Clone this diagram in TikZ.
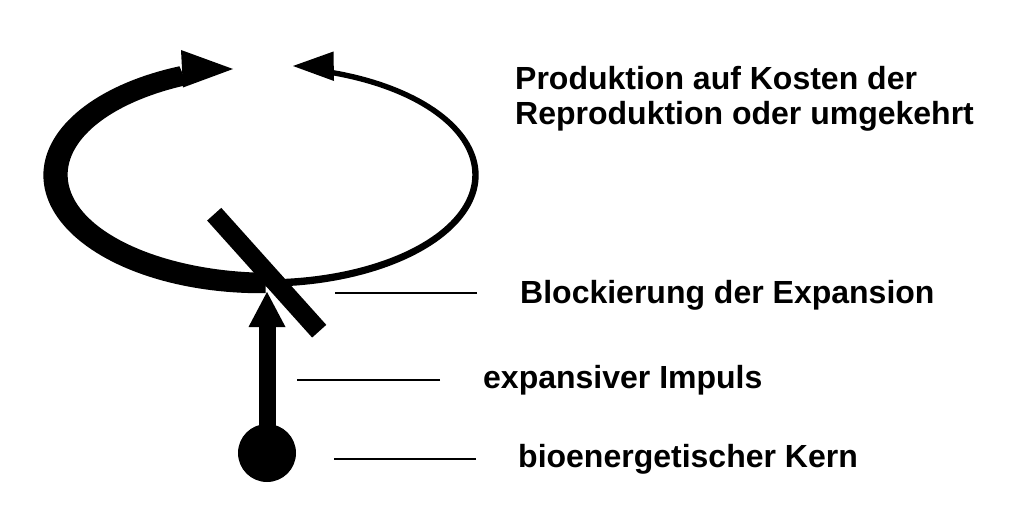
\documentclass[tikz,border=0pt]{standalone}
\usepackage{fontspec}
\setmainfont{Liberation Sans}
\begin{document}
\begin{tikzpicture}[x=1pt,y=-1pt,
  declare function={wl(\t)=10+2.2*sin((\t-85)/165*180); wr(\t)=2.7+0.5*(1+sin(\t));},
  lbl/.style={anchor=base west,inner sep=0pt,align=left,font=\fontsize{32}{35}\selectfont\bfseries},
  leader/.style={line width=2.4pt}]
\useasboundingbox (0,0) rectangle (1025,527);
\pgfmathsetmacro{\cx}{265.5}
\pgfmathsetmacro{\cy}{175}
\pgfmathsetmacro{\rx}{210}
\pgfmathsetmacro{\ry}{108}
\fill plot[domain=90:247,samples=80]({\cx+(\rx+wl(\x))*cos(\x)},{\cy+(\ry+wl(\x))*sin(\x)})--plot[domain=247:90,samples=80]({\cx+(\rx-wl(\x))*cos(\x)},{\cy+(\ry-wl(\x))*sin(\x)})--cycle;
\fill(233,69)--(181,50)--(183,87.5)--cycle;
\fill plot[domain=90:-72,samples=80]({\cx+(\rx+wr(\x))*cos(\x)},{\cy+(\ry+wr(\x))*sin(\x)})--plot[domain=-72:90,samples=80]({\cx+(\rx-wr(\x))*cos(\x)},{\cy+(\ry-wr(\x))*sin(\x)})--cycle;
\fill(293,66)--(333.5,51.5)--(334,81)--cycle;
\draw[line width=19pt](214.2,214.2)--(319.2,331.2);
\node[circle,fill,inner sep=0pt,minimum size=58pt](kern)at(267,453){};
\coordinate(spitze)at(267,326);
\draw[line width=17pt](kern.center)--(spitze);
\fill(267,292)--(248.5,327)--(285.5,327)--cycle;
\node[lbl](prod)at(515,124){Produktion auf Kosten der\\Reproduktion oder umgekehrt};
\node[lbl](block)at(520,303){Blockierung der Expansion};
\node[lbl](impuls)at(483,388){expansiver Impuls};
\node[lbl](kernlbl)at(518,467){bioenergetischer Kern};
\draw[leader]([xshift=-43pt,yshift=2pt]block.west)--++(-142,0);
\draw[leader]([xshift=-43pt]impuls.west)--++(-143,0);
\draw[leader]([xshift=-42pt]kernlbl.west)--++(-142,0);
\end{tikzpicture}
\end{document}
